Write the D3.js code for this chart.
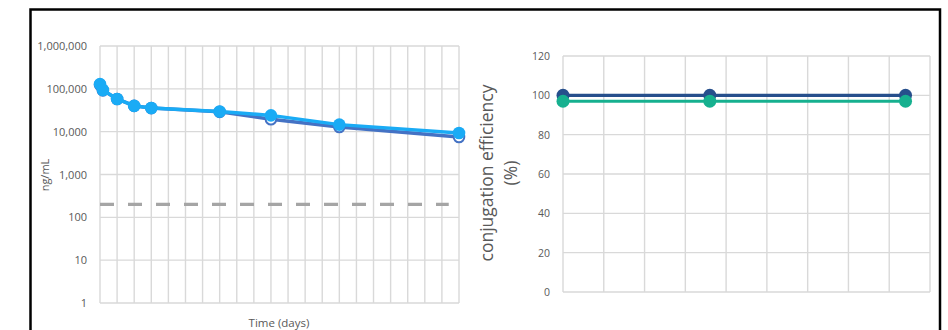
<!DOCTYPE html>
<html>
<head>
<meta charset="utf-8">
<script src="https://cdn.jsdelivr.net/npm/d3@7"></script>
<style>
  html, body { margin: 0; padding: 0; background: #fff; }
  svg { display: block; font-family: "Open Sans", "Liberation Sans", sans-serif; }
</style>
</head>
<body>
<svg id="chart" width="948" height="330"></svg>
<script>
// Pharmacokinetics: concentration over time (log scale)
const pkDays = [0, 0.17, 1, 2, 3, 7, 10, 14, 21];
const pkTotal = [125000, 92000, 58000, 40000, 35500, 29000, 19500, 12800, 7500];
const pkConjugated = [129000, 94000, 58000, 40000, 35700, 29500, 24000, 14600, 9300];
const lloq = 200;
const logTicks = [1, 10, 100, 1000, 10000, 100000, 1000000];

// Conjugation efficiency over time
const ceDays = [0, 9, 21];
const ceSeriesA = [100, 100, 100];
const ceSeriesB = [97, 97, 97];
const ceTicks = [0, 20, 40, 60, 80, 100, 120];

const svg = d3.select("#chart");
const grid = "#d9d9d9";
const textCol = "#595959";

// outer frame
svg.append("rect")
  .attr("x", 30.5).attr("y", 9.5).attr("width", 909.5).attr("height", 340)
  .attr("fill", "none").attr("stroke", "#000").attr("stroke-width", 2.5);

// ---------- left panel ----------
const xL = d3.scaleLinear().domain([0, 21]).range([100, 459]);
const yL = d3.scaleLog().domain([1, 1e6]).range([303, 46]);

const gL = svg.append("g");
gL.append("g").selectAll("line").data(d3.range(0, 22)).join("line")
  .attr("x1", d => xL(d)).attr("x2", d => xL(d))
  .attr("y1", yL(1e6)).attr("y2", yL(1))
  .attr("stroke", grid).attr("stroke-width", 1.4);
gL.append("g").selectAll("line").data(logTicks).join("line")
  .attr("x1", xL(0)).attr("x2", xL(21))
  .attr("y1", d => yL(d)).attr("y2", d => yL(d))
  .attr("stroke", grid).attr("stroke-width", 1.4);

const yAxisL = d3.axisLeft(yL).tickValues(logTicks).tickSize(0).tickPadding(13)
  .tickFormat(d3.format(","));
gL.append("g").attr("transform", `translate(${xL(0)},0)`).call(yAxisL)
  .call(g => g.select(".domain").remove())
  .selectAll("text").attr("fill", textCol).attr("font-size", 11)
  .attr("font-family", "Open Sans, sans-serif");

// LLOQ dashed line
gL.append("line")
  .attr("x1", xL(0)).attr("x2", xL(20.4))
  .attr("y1", yL(lloq)).attr("y2", yL(lloq))
  .attr("stroke", "#a5a5a5").attr("stroke-width", 3.2)
  .attr("stroke-dasharray", "14,14");

const lineL = d3.line().x((d, i) => xL(pkDays[i])).y(d => yL(d));

gL.append("path").datum(pkTotal).attr("d", lineL)
  .attr("fill", "none").attr("stroke", "#4472c4").attr("stroke-width", 3.5);
gL.append("g").selectAll("circle").data(pkTotal).join("circle")
  .attr("cx", (d, i) => xL(pkDays[i])).attr("cy", d => yL(d)).attr("r", 5.3)
  .attr("fill", "#fff").attr("stroke", "#4472c4").attr("stroke-width", 2);

gL.append("path").datum(pkConjugated).attr("d", lineL)
  .attr("fill", "none").attr("stroke", "#1aabf5").attr("stroke-width", 3.5);
gL.append("g").selectAll("circle").data(pkConjugated).join("circle")
  .attr("cx", (d, i) => xL(pkDays[i])).attr("cy", d => yL(d)).attr("r", 6.3)
  .attr("fill", "#1aabf5");

gL.append("text").attr("transform", "translate(49,175) rotate(-90)")
  .attr("text-anchor", "middle").attr("fill", textCol).attr("font-size", 11)
  .text("ng/mL");
gL.append("text").attr("x", 279).attr("y", 327)
  .attr("text-anchor", "middle").attr("fill", textCol).attr("font-size", 11.5)
  .text("Time (days)");

// ---------- right panel ----------
const xR = d3.scaleLinear().domain([0, 22.5]).range([563, 930]);
const yR = d3.scaleLinear().domain([0, 120]).range([292, 56]);

const gR = svg.append("g");
gR.append("g").selectAll("line").data(d3.range(0, 22.6, 2.5)).join("line")
  .attr("x1", d => xR(d)).attr("x2", d => xR(d))
  .attr("y1", yR(120)).attr("y2", yR(0))
  .attr("stroke", grid).attr("stroke-width", 1.4);
gR.append("g").selectAll("line").data(ceTicks).join("line")
  .attr("x1", xR(0)).attr("x2", xR(22.5))
  .attr("y1", d => yR(d)).attr("y2", d => yR(d))
  .attr("stroke", grid).attr("stroke-width", 1.4);

const yAxisR = d3.axisLeft(yR).tickValues(ceTicks).tickSize(0).tickPadding(13);
gR.append("g").attr("transform", `translate(${xR(0)},0)`).call(yAxisR)
  .call(g => g.select(".domain").remove())
  .selectAll("text").attr("fill", textCol).attr("font-size", 10.5)
  .attr("font-family", "Open Sans, sans-serif");

const lineR = d3.line().x((d, i) => xR(ceDays[i])).y(d => yR(d));

[[ceSeriesA, "#264f8c"], [ceSeriesB, "#16b08f"]].forEach(([vals, col]) => {
  gR.append("path").datum(vals).attr("d", lineR)
    .attr("fill", "none").attr("stroke", col).attr("stroke-width", 3.2);
  gR.append("g").selectAll("circle").data(vals).join("circle")
    .attr("cx", (d, i) => xR(ceDays[i])).attr("cy", d => yR(d)).attr("r", 6.5)
    .attr("fill", col);
});

const yt = gR.append("text").attr("transform", "translate(0,173) rotate(-90)")
  .attr("text-anchor", "middle").attr("fill", textCol).attr("font-size", 17.5);
yt.append("tspan").attr("x", 0).attr("y", 493).text("conjugation efficiency");
yt.append("tspan").attr("x", 0).attr("y", 517).text("(%)");
</script>
</body>
</html>
